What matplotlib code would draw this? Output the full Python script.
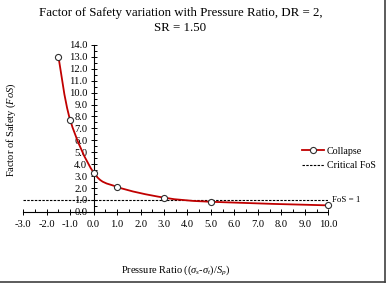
import numpy as np
import matplotlib
matplotlib.use('Agg')
from matplotlib import pyplot as plt
from matplotlib.path import Path
from matplotlib.patches import PathPatch
from matplotlib.lines import Line2D
from matplotlib.ticker import MultipleLocator, FormatStrFormatter

plt.rcParams['font.family'] = ['Liberation Serif', 'DejaVu Serif']
plt.rcParams['mathtext.fontset'] = 'custom'
plt.rcParams['mathtext.rm'] = 'Liberation Serif'
plt.rcParams['mathtext.it'] = 'Liberation Serif:italic'

# data
pressureRatio = [-1.5, -1.0, 0.0, 1.0, 3.0, 5.0, 10.0]
fosCollapse = [13.0, 7.7, 3.3, 2.1, 1.2, 0.85, 0.55]
criticalFos = 1.0
xRange = [-3.0, 10.0]

fig = plt.figure(figsize=(3.88, 2.86), dpi=100)
ax = fig.add_axes([0.06, 0.259, 0.786, 0.584])

# smoothed curve (excel style) built as bezier path through the points
x = np.array(pressureRatio)
y = np.array(fosCollapse)
verts = [(x[0], y[0])]
codes = [Path.MOVETO]
n = len(x)
t = 0.5 / 3.0
for i in range(n - 1):
    p0 = np.array([x[max(i - 1, 0)], y[max(i - 1, 0)]])
    p1 = np.array([x[i], y[i]])
    p2 = np.array([x[i + 1], y[i + 1]])
    p3 = np.array([x[min(i + 2, n - 1)], y[min(i + 2, n - 1)]])
    c1 = p1 + (p2 - p0) * t
    c2 = p2 - (p3 - p1) * t
    verts += [tuple(c1), tuple(c2), tuple(p2)]
    codes += [Path.CURVE4] * 3
ax.add_patch(PathPatch(Path(verts, codes), fill=False, edgecolor='#c00000', lw=1.3, zorder=3, clip_on=False))
ax.plot(pressureRatio, fosCollapse, 'o', mfc='white', mec='#303030', ms=4.4, mew=0.8, zorder=4, clip_on=False)

ax.plot(xRange, [criticalFos, criticalFos], '--', color='k', lw=0.8, dashes=(2.2, 1.2), zorder=2)
ax.text(10.15, criticalFos, 'FoS = 1', fontsize=6.4, va='center', ha='left')

ax.set_xlim(-3.0, 10.0)
ax.set_ylim(0.0, 14.0)
for s in ['top', 'right']:
    ax.spines[s].set_visible(False)
ax.spines['left'].set_position(('data', 0))
ax.spines['bottom'].set_position(('data', 0))
ax.spines['left'].set_linewidth(0.8)
ax.spines['bottom'].set_linewidth(0.8)
ax.xaxis.set_major_locator(MultipleLocator(1.0))
ax.xaxis.set_minor_locator(MultipleLocator(0.5))
ax.yaxis.set_major_locator(MultipleLocator(1.0))
ax.yaxis.set_minor_locator(MultipleLocator(0.5))
ax.xaxis.set_major_formatter(FormatStrFormatter('%.1f'))
ax.yaxis.set_major_formatter(FormatStrFormatter('%.1f'))
ax.tick_params(which='major', direction='inout', length=5, width=0.7, labelsize=7.6, pad=2)
ax.tick_params(which='minor', direction='in', length=2, width=0.7)
ax.tick_params(axis='x', pad=3)
ax.patch.set_visible(False)

fig.suptitle('Factor of Safety variation with Pressure Ratio, DR = 2,\nSR = 1.50', fontsize=9.3,
             x=0.465, y=0.975, linespacing=1.3)
ax.set_xlabel(r'Pressure Ratio ($(\sigma_s$-$\sigma_t)/S_p$)', fontsize=7.5, labelpad=25)
fig.text(0.028, 0.545, r'Factor of Safety ($FoS$)', fontsize=7.5, rotation=90, va='center', ha='center')

handles = [Line2D([], [], color='#c00000', lw=1.3, marker='o', mfc='white', mec='#303030', ms=4.4, mew=0.8),
           Line2D([], [], color='k', lw=0.8, ls='--', dashes=(2.2, 1.2))]
fig.legend(handles, ['Collapse', 'Critical FoS'], loc='center left', bbox_to_anchor=(0.778, 0.445),
           frameon=False, fontsize=7.2, handlelength=2.2, handletextpad=0.3, labelspacing=0.55,
           borderaxespad=0, borderpad=0)

# border on right and bottom
fig.add_artist(Line2D([0.992, 0.992], [0.015, 1.0], color='#404040', lw=1.2, transform=fig.transFigure))
fig.add_artist(Line2D([0.0, 0.992], [0.015, 0.015], color='#404040', lw=1.2, transform=fig.transFigure))

fig.savefig('out.png', dpi=100)
